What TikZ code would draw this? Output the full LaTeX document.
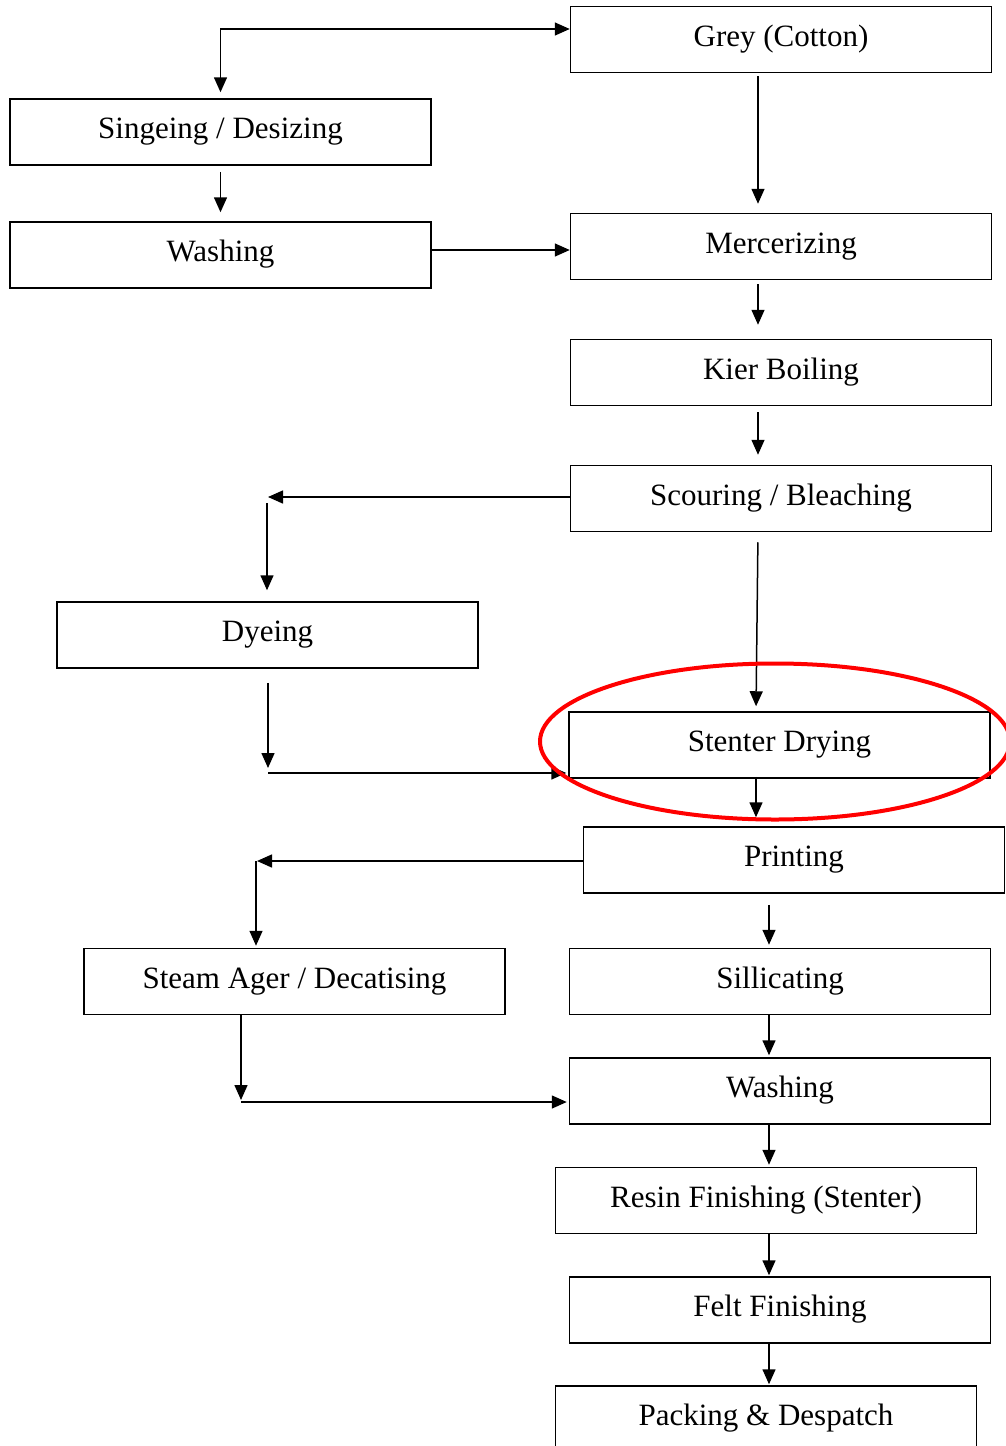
\documentclass[tikz,border=0pt]{standalone}
\usepackage{fontspec}
\setmainfont{Liberation Serif}
\usetikzlibrary{arrows.meta,shapes.geometric}
\begin{document}
\begin{tikzpicture}[x=1pt,y=-1pt,
  box/.style={draw, line width=1.5pt, minimum width=421pt, minimum height=66pt, inner sep=0pt,
    text height=20.5pt, text depth=7.5pt, font=\fontsize{31}{36}\selectfont},
  arr/.style={-{Triangle[length=15pt,width=13pt]}, line width=1.5pt},
  dblarr/.style={{Triangle[length=15pt,width=13pt]}-{Triangle[length=15pt,width=13pt]}, line width=1.5pt},
  hilite/.style={ellipse, draw=red, line width=4pt, minimum width=470pt, minimum height=156pt, inner sep=0pt}]
\useasboundingbox (0,0) rectangle (1005,1446);
\fill[white] (0,0) rectangle (1005,1446);
% boxes
\node[box] (grey)  at (781,39.5)   {Grey (Cotton)};
\node[box] (sing)  at (220.5,132)  {Singeing / Desizing};
\node[box] (wash1) at (220.5,255)  {Washing};
\node[box] (merc)  at (781,246.5)  {Mercerizing};
\node[box] (kier)  at (781,372.5)  {Kier Boiling};
\node[box] (scour) at (781,498.5)  {Scouring / Bleaching};
\node[box] (dye)   at (267.5,635)  {Dyeing};
\node[box] (stent) at (779.5,745)  {Stenter Drying};
\node[box] (print) at (794,860)    {Printing};
\node[box] (steam) at (294.5,981.5) {Steam Ager / Decatising};
\node[box] (sill)  at (780,981.5)  {Sillicating};
\node[box] (wash2) at (780,1091)   {Washing};
\node[box] (resin) at (766,1200.5) {Resin Finishing (Stenter)};
\node[box] (felt)  at (780,1310)   {Felt Finishing};
\node[box] (pack)  at (766,1419)   {Packing \& Despatch};
% helper coordinates
\coordinate (c2)  at (268,497);
\coordinate (c2b) at (267,503);
\coordinate (c3)  at (268,768);
\coordinate (c4)  at (268,773);
\coordinate (c5)  at (257,861);
\coordinate (c5b) at (256,861);
\coordinate (c6)  at (241,1100);
\coordinate (c6b) at (241,1102);
% connectors
\draw[dblarr, shorten <=6pt] (sing.north) |- (grey.west |- 0,29);
\draw[arr, shorten <=3pt, shorten >=9pt] (grey.south -| 758,0) -- (merc.north -| 758,0);
\draw[arr, shorten <=6pt, shorten >=9pt] (sing.south) -- (wash1.north);
\draw[arr] (wash1.east |- 0,250) -- (merc.west |- 0,250);
\draw[arr, shorten <=4pt, shorten >=14pt] (merc.south -| 758,0) -- (kier.north -| 758,0);
\draw[arr, shorten <=6pt, shorten >=10pt] (kier.south -| 758,0) -- (scour.north -| 758,0);
\draw[arr] (scour.west |- 0,497) -- (c2);
\draw[arr, shorten >=11pt] (c2b) -- (dye.north -| c2b);
\draw[arr, shorten <=10pt, shorten >=5pt] (scour.south -| 758,0) -- (stent.north -| 756,0);
\draw[arr, shorten <=14pt] (dye.south -| c3) -- (c3);
\draw[arr, shorten >=2pt] (c4) -- (stent.west |- c4);
\draw[arr, shorten <=-2pt, shorten >=9pt] (stent.south -| 756,0) -- (print.north -| 756,0);
\draw[arr] (print.west |- c5) -- (c5);
\draw[arr, shorten >=2pt] (c5b) -- (steam.north -| c5b);
\draw[arr, shorten <=11pt, shorten >=3pt] (print.south -| 769,0) -- (sill.north -| 769,0);
\draw[arr] (steam.south -| c6) -- (c6);
\draw[arr, shorten >=2pt] (c6b) -- (wash2.west |- c6b);
\draw[arr, shorten >=2pt] (sill.south -| 769,0) -- (wash2.north -| 769,0);
\draw[arr, shorten >=2pt] (wash2.south -| 769,0) -- (resin.north -| 769,0);
\draw[arr, shorten >=1pt] (resin.south -| 769,0) -- (felt.north -| 769,0);
\draw[arr, shorten >=1pt] (felt.south -| 769,0) -- (pack.north -| 769,0);
% highlight
\node[hilite] (hl) at (775,741.5) {};
\end{tikzpicture}
\end{document}
